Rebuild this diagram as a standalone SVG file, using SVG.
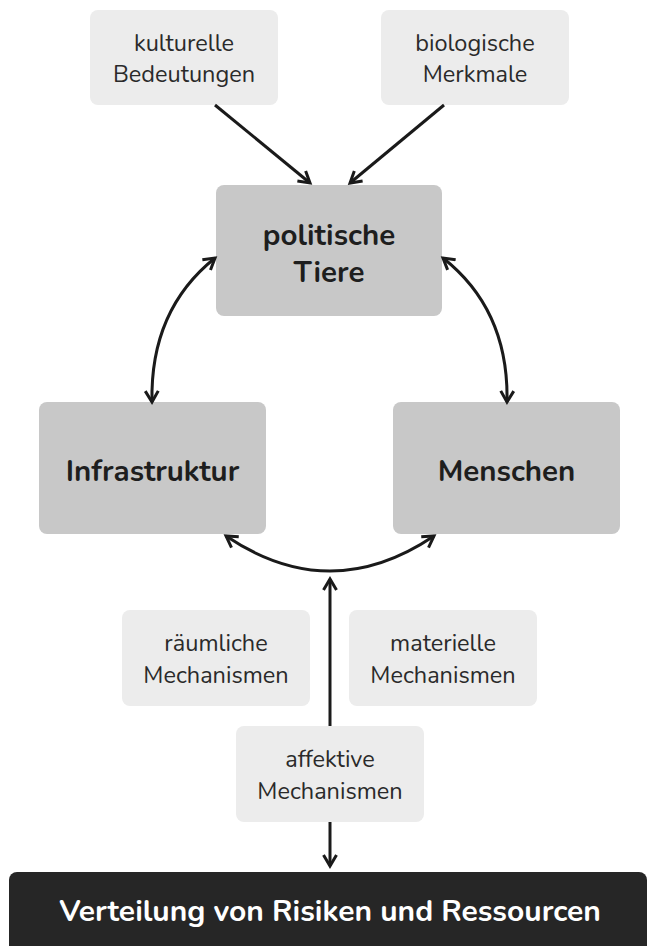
<svg xmlns="http://www.w3.org/2000/svg" width="648" height="946" viewBox="0 0 648 946">
<defs>
<style>
.light{fill:#ececec}
.mid{fill:#c8c8c8}
.dark{fill:#262626}
.t{font-family:"Nunito","Open Sans","Noto Sans",sans-serif;font-size:23.5px;fill:#2a2a2a;text-anchor:middle}
.b{font-family:"Nunito","Open Sans","Noto Sans",sans-serif;font-size:29.5px;font-weight:bold;fill:#1e1e1e;text-anchor:middle}
.w{font-family:"Nunito","Open Sans","Noto Sans",sans-serif;font-size:30px;font-weight:bold;fill:#ffffff;text-anchor:middle}
.c{fill:none;stroke:#1a1a1a;stroke-width:3}
</style>
<marker id="ah" markerUnits="userSpaceOnUse" markerWidth="24" markerHeight="24" viewBox="-12 -12 24 24" refX="0" refY="0" orient="auto-start-reverse">
<path d="M-11,-6.5 L0,0 L-11,6.5" fill="none" stroke="#1a1a1a" stroke-width="3"/>
</marker>
</defs>
<rect width="648" height="946" fill="#ffffff"/>
<g id="kulturelle">
<rect class="light" x="90" y="10" width="188" height="95" rx="8"/>
<text class="t" x="184" y="51">kulturelle</text>
<text class="t" x="184" y="82">Bedeutungen</text>
</g>
<g id="biologische">
<rect class="light" x="381" y="10" width="188" height="95" rx="8"/>
<text class="t" x="475" y="51">biologische</text>
<text class="t" x="475" y="82">Merkmale</text>
</g>
<g id="tiere">
<rect class="mid" x="216" y="185" width="226" height="131" rx="8"/>
<text class="b" x="329" y="245">politische</text>
<text class="b" x="329" y="282">Tiere</text>
</g>
<g id="infrastruktur">
<rect class="mid" x="39" y="402" width="227" height="132" rx="8"/>
<text class="b" x="152.5" y="481">Infrastruktur</text>
</g>
<g id="menschen">
<rect class="mid" x="393" y="402" width="227" height="132" rx="8"/>
<text class="b" x="506.5" y="481">Menschen</text>
</g>
<g id="raeumliche">
<rect class="light" x="122" y="610" width="188" height="96" rx="8"/>
<text class="t" x="216" y="651">räumliche</text>
<text class="t" x="216" y="683">Mechanismen</text>
</g>
<g id="materielle">
<rect class="light" x="349" y="610" width="188" height="96" rx="8"/>
<text class="t" x="443" y="651">materielle</text>
<text class="t" x="443" y="683">Mechanismen</text>
</g>
<g id="affektive">
<rect class="light" x="236" y="726" width="188" height="96" rx="8"/>
<text class="t" x="330" y="767">affektive</text>
<text class="t" x="330" y="799">Mechanismen</text>
</g>
<g id="verteilung">
<rect class="dark" x="9" y="872" width="638" height="90" rx="8"/>
<text class="w" x="330" y="921">Verteilung von Risiken und Ressourcen</text>
</g>
<g id="connectors">
<path class="c" d="M215,105 L310,183" marker-end="url(#ah)"/>
<path class="c" d="M444,105 L350,183" marker-end="url(#ah)"/>
<path class="c" d="M215,258 Q150,310 152,402" marker-start="url(#ah)" marker-end="url(#ah)"/>
<path class="c" d="M443,258 Q509,310 507,402" marker-start="url(#ah)" marker-end="url(#ah)"/>
<path class="c" d="M226,536 Q330,606 434,536" marker-start="url(#ah)" marker-end="url(#ah)"/>
<path class="c" d="M330,726 L330,579" marker-end="url(#ah)"/>
<path class="c" d="M330,822 L330,866" marker-end="url(#ah)"/>
</g>
</svg>
